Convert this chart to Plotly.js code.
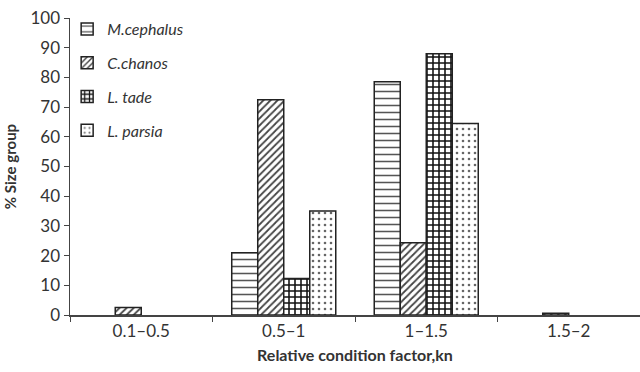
<!DOCTYPE html>
<html><head><meta charset="utf-8">
<script src="https://cdn.plot.ly/plotly-3.0.1.min.js"></script>
<style>html,body{margin:0;padding:0;background:#fff}</style>
</head><body><div id="chart" style="width:640px;height:372px"></div>
<script>
const categories = ["0.1–0.5", "0.5–1", "1–1.5", "1.5–2"];
const seriesNames = ["M.cephalus", "C.chanos", "L. tade", "L. parsia"];
const mCephalus = [null, 21, 78.5, null];
const cChanos = [2.5, 72.5, 24.3, 0.6];
const lTade = [null, 12.3, 88, null];
const lParsia = [null, 35, 64.5, null];
const yTicks = [0,10,20,30,40,50,60,70,80,90,100];

const patterns = [
  {shape: "-", fgcolor: "#555", bgcolor: "#fff", size: 7, solidity: 0.22},
  {shape: "/", fgcolor: "#444", bgcolor: "#fff", size: 5, solidity: 0.35},
  {shape: "+", fgcolor: "#111", bgcolor: "#fff", size: 6, solidity: 0.45},
  {shape: ".", fgcolor: "#666", bgcolor: "#fff", size: 6, solidity: 0.15}
];
const values = [mCephalus, cChanos, lTade, lParsia];
const traces = values.map((v, i) => ({
  type: "bar", x: categories, y: v, name: seriesNames[i], legendgroup: "g" + i,
  marker: {color: "#fff", line: {color: "#222", width: 1.5}, pattern: patterns[i]}
}));

Plotly.newPlot("chart", traces, {
  width: 640, height: 372,
  margin: {l: 70, r: 0, t: 18, b: 57},
  paper_bgcolor: "#fff", plot_bgcolor: "#fff",
  barmode: "group", bargap: 0.27, bargroupgap: 0,
  font: {family: "Lato, 'Open Sans', sans-serif", size: 17, color: "#333"},
  showlegend: true,
  legend: {x: -0.005, y: 1.02, xanchor: "left", yanchor: "top", bgcolor: "rgba(0,0,0,0)",
    font: {size: 16, style: "italic", color: "#333"}, tracegroupgap: 10, itemwidth: 30},
  xaxis: {type: "category", tickson: "boundaries", ticks: "outside", ticklen: 5, tickcolor: "#444",
    showline: true, linecolor: "#444", linewidth: 1.5, showgrid: false, zeroline: false,
    title: {text: "<b>Relative condition factor,kn</b>", font: {size: 16}, standoff: 10}},
  yaxis: {range: [0, 100], tickvals: yTicks, ticks: "outside", ticklen: 5, tickcolor: "#444",
    showline: true, linecolor: "#444", linewidth: 1.5, showgrid: false, zeroline: false,
    title: {text: "<b>% Size group</b>", font: {size: 15}, standoff: 10}}
}, {displayModeBar: false, staticPlot: true});
</script></body></html>
